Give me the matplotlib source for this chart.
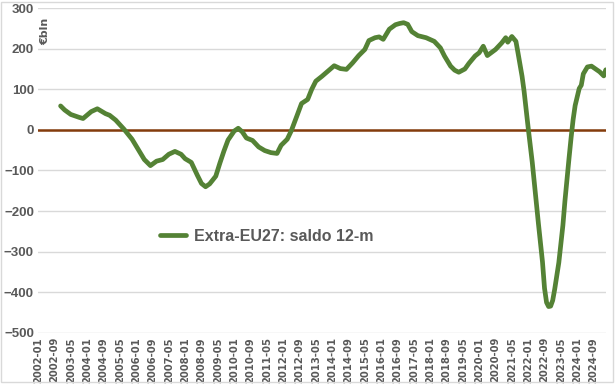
import pandas as pd
import matplotlib.pyplot as plt
from matplotlib.patches import Rectangle

# Extra-EU27 trade balance, rolling 12-month sum (EUR bn)
dates = [
    "2002-12", "2003-02", "2003-05", "2003-09", "2003-11", "2004-03", "2004-06", "2004-10",
    "2004-12", "2005-03", "2005-07", "2005-11", "2006-02", "2006-05", "2006-08", "2006-11",
    "2007-02", "2007-05", "2007-08", "2007-11", "2008-01", "2008-04", "2008-07", "2008-09",
    "2008-11", "2009-01", "2009-04", "2009-06", "2009-08", "2009-10", "2010-01", "2010-03",
    "2010-05", "2010-07", "2010-10", "2011-01", "2011-04", "2011-07", "2011-10", "2011-12",
    "2012-03", "2012-05", "2012-08", "2012-10", "2013-01", "2013-03", "2013-05", "2013-08",
    "2013-11", "2014-02", "2014-05", "2014-08", "2014-11", "2015-02", "2015-05", "2015-07",
    "2015-10", "2015-12", "2016-02", "2016-05", "2016-08", "2016-10", "2016-12", "2017-02",
    "2017-04", "2017-07", "2017-11", "2018-03", "2018-06", "2018-08", "2018-11", "2019-01",
    "2019-03", "2019-06", "2019-08", "2019-11", "2020-01", "2020-03", "2020-05", "2020-09",
    "2020-12", "2021-02", "2021-03", "2021-05", "2021-07", "2021-08", "2021-10", "2021-11",
    "2022-01", "2022-03", "2022-04", "2022-06", "2022-08", "2022-09", "2022-10", "2022-11",
    "2022-12", "2023-01", "2023-02", "2023-04", "2023-06", "2023-07", "2023-09", "2023-10",
    "2023-11", "2023-12", "2024-02", "2024-03", "2024-04", "2024-06", "2024-08", "2024-10",
    "2024-12", "2025-02", "2025-03",
]
saldo = [
    59, 49, 38, 31, 28, 45, 52, 40,
    36, 24, 2, -23, -48, -73, -88, -77,
    -73, -60, -53, -60, -71, -80, -112, -132,
    -140, -133, -114, -82, -52, -25, -3, 4,
    -5, -20, -26, -42, -51, -56, -58, -38,
    -23, -2, 38, 65, 75, 100, 120, 132,
    145, 158, 151, 149, 165, 183, 198, 220,
    227, 229, 223, 248, 259, 262, 264, 260,
    242, 232, 227, 218, 202, 182, 157, 147,
    142, 150, 164, 182, 190, 206, 183, 198,
    214, 227, 216, 230, 218, 190, 132, 95,
    5, -80, -130, -230, -325, -390, -425, -435,
    -434, -420, -392, -327, -235, -175, -70, -20,
    25, 60, 102, 110, 138, 155, 157, 150,
    143, 133, 148,
]

first_month = "2002-01"
last_month = "2025-03"
label_step = 8

months = pd.period_range(first_month, last_month, freq="M")
month_pos = {str(p): i for i, p in enumerate(months)}
xs = [month_pos[d] for d in dates]

green = "#548235"
brown = "#843c0c"
grey_txt = "#595959"

fig = plt.figure(figsize=(6.15, 3.84), dpi=100)
ax = fig.add_axes([0.062, 0.133, 0.923, 0.846])

ax.plot(xs, saldo, color=green, lw=3.4, solid_capstyle="round", solid_joinstyle="round",
        label="Extra-EU27: saldo 12-m", zorder=3)
ax.axhline(0, color=brown, lw=1.8, zorder=2)

ax.set_xlim(0, len(months) - 1)
ax.set_ylim(-500, 300)
ax.set_yticks(range(-500, 301, 100))
ax.grid(axis="y", color="#d9d9d9", lw=1)
ax.set_axisbelow(True)

tick_idx = list(range(0, len(months), label_step))
ax.set_xticks(tick_idx)
ax.set_xticklabels([str(months[i]) for i in tick_idx], rotation=90,
                   fontsize=7.2, fontweight="bold", color=grey_txt)
for lbl in ax.get_yticklabels():
    lbl.set_family("Liberation Sans")
    lbl.set_fontsize(9.5)
    lbl.set_fontweight("bold")
    lbl.set_color(grey_txt)
ax.tick_params(axis="both", length=0, pad=3)

for s in ax.spines.values():
    s.set_visible(False)

ax.text(0.004, 0.97, "€bln", transform=ax.transAxes, rotation=90, va="top", ha="left",
        fontsize=8, fontweight="bold", color=grey_txt)

leg = ax.legend(loc="upper left", bbox_to_anchor=(0.19, 0.365), frameon=False,
                handlelength=1.6, handletextpad=0.5,
                prop={"family": "Liberation Sans", "weight": "bold", "size": 11.5})
for t in leg.get_texts():
    t.set_color(grey_txt)

fig.patches.append(Rectangle((0.002, 0.004), 0.994, 0.992, transform=fig.transFigure,
                             fill=False, edgecolor="#d9d9d9", lw=1))

fig.savefig("out.png", dpi=100)
